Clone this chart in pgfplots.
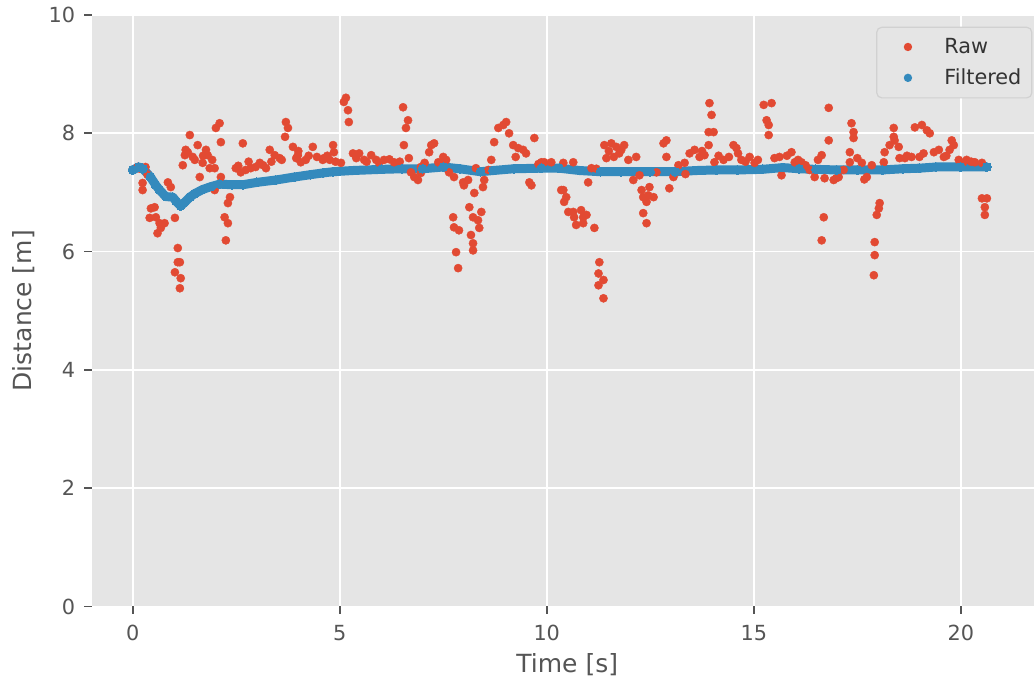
\documentclass[border=0pt]{standalone}
\usepackage{pgfplots}
\pgfplotsset{compat=1.18}
\usepackage{fontspec}
\setmainfont{DejaVu Sans}
\definecolor{bgc}{HTML}{E5E5E5}
\definecolor{rawc}{HTML}{E24A33}
\definecolor{filc}{HTML}{348ABD}
\definecolor{tickc}{HTML}{555555}
\definecolor{labc}{HTML}{555555}
\definecolor{legc}{HTML}{D1D1D1}
\definecolor{legtext}{HTML}{333333}
\begin{document}
\begin{tikzpicture}
\begin{axis}[
  at={(0,0)}, anchor=south west, scale only axis,
  width=475.6pt, height=295.75pt,
  xmin=-0.99, xmax=21.98, ymin=0, ymax=10,
  xtick={0,5,10,15,20}, ytick={0,2,4,6,8,10},
  axis background/.style={fill=bgc},
  axis line style={draw=none},
  grid=major, major grid style={white, line width=0.83pt},
  tick align=outside, tick pos=left,
  major tick length=3.65pt,
  every tick/.style={tickc, line width=0.83pt},
  tick label style={font=\fontsize{10.4}{12}\selectfont, text=tickc},
  xticklabel style={anchor=north, inner sep=0pt, yshift=-5.4pt},
  yticklabel style={anchor=east, inner sep=0pt, xshift=-4.4pt},
  /pgf/number format/assume math mode=true,
  xlabel={Time [s]}, ylabel={Distance [m]},
  every axis x label/.style={at={(axis description cs:0.5,-0.1125)}, anchor=base, font=\fontsize{12.5}{15}\selectfont, text=labc, inner sep=0pt},
  every axis y label/.style={at={(axis description cs:-0.06287,0.5)}, rotate=90, anchor=base, font=\fontsize{12.5}{15}\selectfont, text=labc, inner sep=0pt},
  legend style={at={(1,1)}, anchor=north east, xshift=-5.2pt, yshift=-5.85pt,
    fill=bgc, draw=legc, line width=0.6pt, rounded corners=2.5pt,
    font=\fontsize{10.4}{12}\selectfont, text=legtext,
    inner xsep=5.2pt, inner ysep=5.3pt, column sep=7.8pt, row sep=6.2pt,
    nodes={inner sep=0pt}},
  legend cell align=left,
]
\addplot[only marks, mark=*, mark size=2.05pt, mark options={draw=rawc, fill=rawc, line width=0.2pt},
  legend image code/.code={\path[draw=none, fill=none] (0pt,-3pt) rectangle (20.8pt,3pt); \path[draw=none, fill=rawc] (10.4pt,0pt) circle (2.1pt);}]
coordinates {
(0.00,7.38) (0.12,7.43) (0.31,7.43) (0.24,7.16) (0.24,7.04) (0.44,6.73) (0.53,6.75) (0.41,6.57)
(0.56,6.58) (0.65,6.48) (0.77,6.48) (0.60,6.31) (0.68,6.40) (0.85,7.17) (0.92,7.09) (1.02,6.57)
(1.09,6.06) (1.09,5.82) (1.14,5.82) (1.02,5.65) (1.16,5.55) (1.14,5.38) (1.21,7.46) (1.28,7.72)
(1.38,7.97) (1.45,7.60) (1.26,7.63) (1.57,7.80) (1.62,7.26) (1.69,7.50) (1.77,7.72) (1.81,7.63)
(1.86,7.41) (1.98,7.41) (2.01,8.09) (2.10,8.17) (2.13,7.85) (2.13,7.26) (1.98,7.04) (2.35,6.92)
(2.30,6.82) (2.22,6.58) (2.30,6.48) (2.25,6.19) (2.49,7.41) (2.66,7.83) (2.73,7.38) (2.97,7.43)
(3.07,7.50) (3.22,7.41) (3.31,7.72) (3.43,7.63) (3.55,7.58) (3.70,8.19) (3.75,8.09) (3.68,7.94)
(3.87,7.77) (3.99,7.63) (4.06,7.51) (4.18,7.55) (4.35,7.77) (4.59,7.55) (4.76,7.55)
(2.61,7.34) (2.85,7.41) (0.18,7.40) (0.36,7.30) (1.50,7.55) (1.70,7.62) (2.55,7.45) (3.15,7.46)
(3.60,7.55) (4.00,7.70) (4.45,7.60) (4.90,7.52) (1.33,7.68) (1.92,7.55) (2.80,7.52) (3.35,7.52)
(3.95,7.58) (4.25,7.62) (4.70,7.62)
(4.62,7.58) (4.84,7.80) (4.86,7.68) (5.03,7.50) (5.10,8.53) (5.15,8.60) (5.20,8.39) (5.22,8.19)
(5.32,7.66) (5.47,7.66) (5.59,7.55) (5.76,7.63) (5.88,7.55) (6.07,7.55) (6.31,7.51) (6.53,8.44)
(6.65,8.22) (6.60,8.09) (6.55,7.80) (6.67,7.58) (6.80,7.26) (6.89,7.21) (6.96,7.43) (7.16,7.68)
(7.21,7.80) (7.28,7.83) (7.38,7.51) (7.50,7.60) (7.57,7.55) (7.64,7.34) (7.76,7.26) (7.74,6.58)
(7.76,6.41) (7.88,6.36) (7.81,5.99) (7.86,5.72) (7.98,7.17) (8.00,7.12) (8.10,7.21) (8.13,6.75)
(8.25,6.99) (8.22,6.58) (8.34,6.53) (8.42,6.67) (8.37,6.40) (8.17,6.28) (8.22,6.14) (8.22,6.02)
(8.29,7.41) (8.46,7.09) (8.49,7.21) (8.59,7.38) (8.66,7.55) (8.73,7.85) (8.83,8.09) (8.95,8.14)
(9.02,8.19) (9.09,8.00) (9.19,7.80) (9.31,7.75) (9.43,7.72) (9.50,7.66) (9.70,7.92) (9.58,7.17)
(9.63,7.12) (9.87,7.51) (10.11,7.51) (6.72,7.34) (6.96,7.33) (5.40,7.58) (5.65,7.52) (6.20,7.56)
(9.25,7.60) (9.80,7.48) (5.95,7.50) (6.45,7.52) (7.05,7.50) (7.45,7.47)
(9.94,7.51) (10.40,7.50) (10.35,7.04) (10.40,7.04) (10.47,6.92) (10.42,6.84) (10.52,6.67) (10.64,6.67)
(10.66,6.58) (10.71,6.45) (10.83,6.70) (10.88,6.58) (10.96,6.62) (10.88,6.48) (11.15,6.40) (11.00,7.17)
(11.08,7.41) (11.27,5.82) (11.25,5.63) (11.37,5.52) (11.25,5.43) (11.37,5.21) (11.39,7.80) (11.44,7.58)
(11.56,7.83) (11.68,7.77) (11.80,7.72) (11.87,7.80) (11.97,7.55) (12.16,7.60) (12.09,7.21) (12.24,7.29)
(12.29,7.04) (12.33,6.92) (12.45,6.95) (12.48,7.09) (12.58,6.92) (12.41,6.84) (12.33,6.65) (12.41,6.48)
(12.65,7.34) (12.82,7.83) (12.89,7.88) (12.89,7.60) (12.96,7.07) (13.06,7.26) (13.18,7.46) (13.33,7.50)
(13.45,7.66) (13.57,7.72) (13.69,7.60) (13.81,7.63) (13.91,7.80) (13.91,8.02) (14.03,8.02) (13.98,8.31)
(13.93,8.51) (14.05,7.51) (14.27,7.55) (14.51,7.80) (14.58,7.75) (14.70,7.55) (14.90,7.60) (15.02,7.50)
(15.24,8.48) (15.43,8.51) (15.31,8.22) (15.36,8.14) (15.36,7.97) (15.50,7.58) (15.62,7.60)
(10.64,7.51) (11.20,7.40) (11.62,7.60) (13.10,7.33) (13.35,7.31) (14.40,7.60) (14.80,7.52)
(11.50,7.70) (11.75,7.66) (13.75,7.70) (14.15,7.62) (14.62,7.66) (15.10,7.55)
(15.67,7.29) (15.91,7.68) (15.99,7.51) (16.15,7.51) (16.35,7.38) (16.47,7.26) (16.64,7.63) (16.81,8.43)
(16.81,7.88) (16.69,6.58) (16.64,6.19) (16.71,7.24) (16.93,7.21) (17.05,7.26) (17.17,7.38) (17.32,7.68)
(17.36,8.17) (17.41,8.02) (17.41,7.92) (17.32,7.51) (17.61,7.50) (17.73,7.26) (17.85,7.46) (18.04,6.82)
(18.02,6.73) (17.97,6.62) (17.92,6.16) (17.92,5.94) (17.90,5.60) (18.14,7.51) (18.16,7.68) (18.28,7.80)
(18.38,8.09) (18.38,7.94) (18.40,7.88) (18.50,7.77) (18.52,7.58) (18.65,7.58) (18.81,7.60) (18.89,8.10)
(19.06,8.14) (19.18,8.05) (19.25,8.00) (19.35,7.68) (19.47,7.72) (19.59,7.60) (19.78,7.88) (19.83,7.80)
(19.73,7.72) (19.95,7.55) (20.14,7.55) (20.34,7.51) (20.51,7.50) (20.51,6.90) (20.63,6.90) (20.58,6.75)
(20.58,6.62) (16.07,7.55) (16.25,7.46) (16.99,7.24) (17.67,7.22) (19.00,7.60) (19.65,7.62) (20.25,7.52)
(15.80,7.62) (16.55,7.55) (17.50,7.58) (18.70,7.62) (19.10,7.66) (20.05,7.50)
};
\addlegendentry{Raw}
\addplot[color=filc, line width=4.5pt, line cap=round, line join=round,
  mark=*, mark size=2.2pt, mark options={draw=filc, fill=filc, line width=0pt},
  legend image code/.code={\path[draw=none, fill=none] (0pt,-3pt) rectangle (20.8pt,3pt); \path[draw=none, fill=filc] (10.4pt,0pt) circle (2.1pt);}]
coordinates {
(0,7.38) (0.15,7.43) (0.25,7.40) (0.43,7.26) (0.55,7.13) (0.65,7.04) (0.8,6.93) (0.97,6.92)
(1.05,6.85) (1.16,6.77) (1.25,6.83) (1.38,6.92) (1.5,6.98) (1.69,7.05) (1.9,7.10) (2.1,7.14)
(2.4,7.13) (2.66,7.13) (3.0,7.17) (3.46,7.21) (3.9,7.26) (4.29,7.30) (4.6,7.33) (4.84,7.35)
(5.3,7.37) (6.0,7.39) (6.5,7.40) (7.0,7.40) (7.5,7.43) (7.9,7.40) (8.4,7.35) (8.7,7.37)
(9.2,7.40) (9.87,7.41) (10.3,7.41) (10.8,7.37) (11.3,7.35) (11.8,7.35) (12.5,7.35) (13.1,7.35)
(13.6,7.37) (14.1,7.38) (14.6,7.38) (15.2,7.39) (15.7,7.42) (16.1,7.40) (16.5,7.39) (17.0,7.38)
(17.5,7.38) (18.1,7.38) (18.6,7.40) (19.0,7.41) (19.4,7.43) (20.0,7.43) (20.63,7.43)
};
\addlegendentry{Filtered}
\end{axis}
\pgfresetboundingbox
\path[use as bounding box] (-45.85pt,-39.25pt) rectangle (471.2pt,303.25pt);
\end{tikzpicture}
\end{document}
